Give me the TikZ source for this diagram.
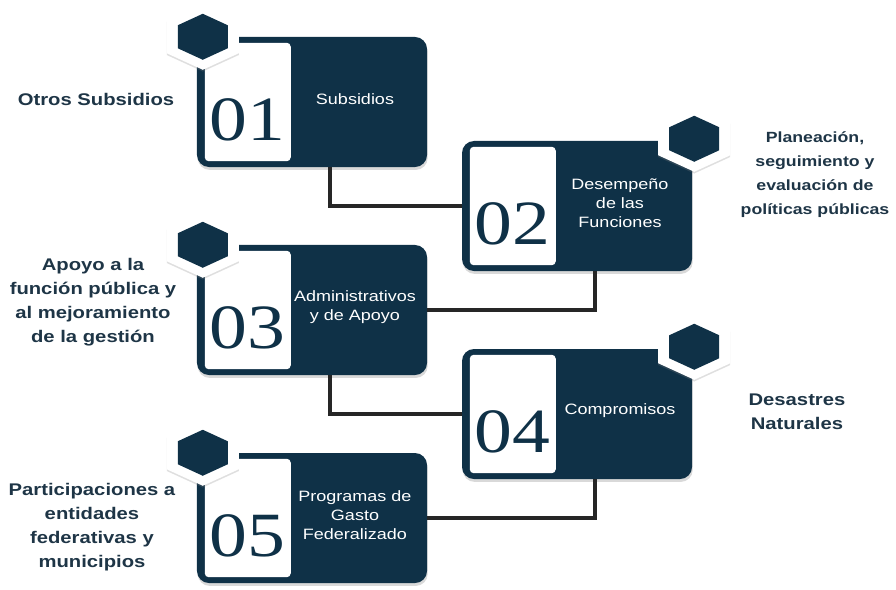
\documentclass[tikz,border=0pt]{standalone}
\usepackage{fontspec}
\setmainfont{Liberation Sans}
\newfontfamily\widesans[FakeStretch=1.2]{Liberation Sans}
\newfontfamily\wideserif[FakeStretch=1.2]{Liberation Serif}
\usetikzlibrary{positioning,shadows,calc}
\definecolor{navy}{HTML}{0F3147}
\definecolor{ink}{HTML}{1E3546}
\tikzset{
  card/.style={fill=navy, rounded corners=0.36cm, minimum width=6.9cm, minimum height=3.9cm, inner sep=0pt,
    drop shadow={shadow xshift=0.6pt, shadow yshift=-2.5pt, opacity=0.3}},
  panel/.style={fill=white, rounded corners=0.12cm},
  digit/.style={anchor=base, text=navy, inner sep=0pt, font=\wideserif\fontsize{53.8}{54}\selectfont},
  cardtext/.style={text=white, align=center, inner sep=0pt, font=\widesans\fontsize{12.8}{16.2}\selectfont},
  lbl/.style={text=ink, align=center, inner sep=0pt, font=\widesans\bfseries\fontsize{14.4}{20.5}\selectfont},
  link/.style={draw=black!85, line width=2.6pt}
}
% hexagon badge with white halo
\newcommand{\badge}[1]{%
  \fill[white, drop shadow={shadow xshift=0pt, shadow yshift=-1.5pt, opacity=0.25}] (#1) +(0,-33) -- +(36,-16.5) -- +(36,16.5) -- +(0,33) -- +(-36,16.5) -- +(-36,-16.5) -- cycle;
  \fill[navy] (#1) +(0,-23) -- +(25,-11.5) -- +(25,11.5) -- +(0,23) -- +(-25,11.5) -- +(-25,-11.5) -- cycle;
}

\begin{document}
\begin{tikzpicture}[x=0.03cm, y=-0.03cm]
  \useasboundingbox (0,0) rectangle (896,590);

  % cards
  \node[card] (c1) at (312,102) {};
  \node[card] (c2) at (577,206) {};
  \node[card] (c3) at (312,310) {};
  \node[card] (c4) at (577,414) {};
  \node[card] (c5) at (312,518) {};

  % white panels
  \foreach \c in {c1,c2,c3,c4,c5}
    \fill[panel] ([shift={(8,6)}]\c.north west) rectangle ([shift={(94,-6)}]\c.south west);

  % badges
  \badge{[shift={(6,0)}]c1.north west}
  \badge{[shift={(2,-2)}]c2.north east}
  \badge{[shift={(6,0)}]c3.north west}
  \badge{[shift={(2,-2)}]c4.north east}
  \badge{[shift={(6,0)}]c5.north west}

  % numbers
  \node[digit] (n1) at ([shift={(51,-27)}]c1.south west) {01};
  \node[digit] (n2) at ([shift={(51,-27)}]c2.south west) {02};
  \node[digit] (n3) at ([shift={(51,-27)}]c3.south west) {03};
  \node[digit] (n4) at ([shift={(51,-27)}]c4.south west) {04};
  \node[digit] (n5) at ([shift={(51,-27)}]c5.south west) {05};

  % titles
  \node[cardtext] (t1) at ([shift={(43,-3)}]c1.center) {Subsidios};
  \node[cardtext] (t2) at ([shift={(43,-3)}]c2.center) {Desempeño\\de las\\Funciones};
  \node[cardtext] (t3) at ([shift={(43,-3)}]c3.center) {Administrativos\\y de Apoyo};
  \node[cardtext] (t4) at ([shift={(43,-3)}]c4.center) {Compromisos};
  \node[cardtext] (t5) at ([shift={(43,-3)}]c5.center) {Programas de\\Gasto\\Federalizado};

  % connectors
  \draw[link] ([xshift=0.54cm]c1.south) |- (c2.west);
  \draw[link] ([xshift=0.54cm]c2.south) |- (c3.east);
  \draw[link] ([xshift=0.54cm]c3.south) |- (c4.west);
  \draw[link] ([xshift=0.54cm]c4.south) |- (c5.east);

  % side labels
  \node[lbl] (l1) at (96,99) {Otros Subsidios};
  \node[lbl, font=\widesans\bfseries\fontsize{12.6}{20.5}\selectfont] (l2) at (815,175) {Planeación,\\seguimiento y\\evaluación de\\políticas públicas};
  \node[lbl] (l3) at (93,302) {Apoyo a la\\función pública y\\al mejoramiento\\de la gestión};
  \node[lbl] (l4) at (797,412) {Desastres\\Naturales};
  \node[lbl] (l5) at (92,527) {Participaciones a\\entidades\\federativas y\\municipios};
\end{tikzpicture}
\end{document}
